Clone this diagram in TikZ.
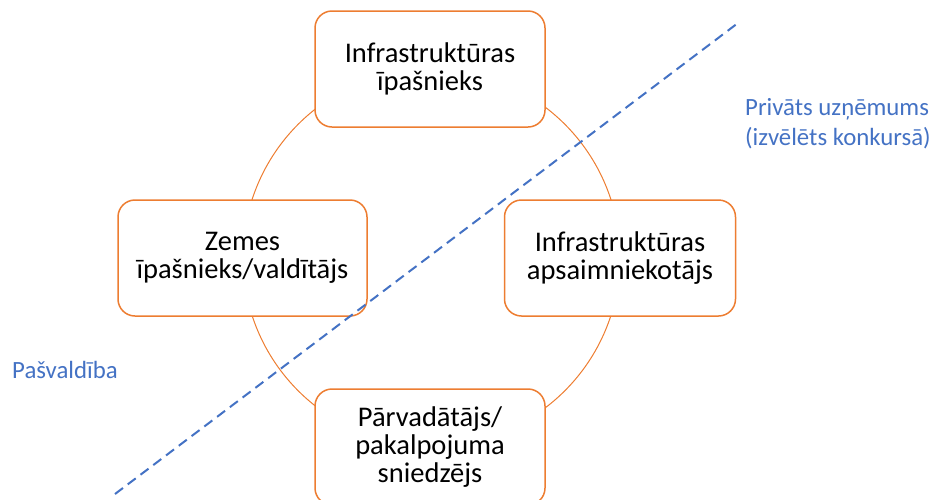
\documentclass[tikz,border=0pt]{standalone}
\usepackage{fontspec}
\setmainfont{Carlito}
\definecolor{orangeline}{HTML}{ED7D31}
\definecolor{blueline}{HTML}{4472C4}
\begin{document}
\begin{tikzpicture}[x=1pt,y=-1pt,
  rolebox/.style={draw=orangeline, line width=1.5pt, fill=white, rounded corners=17pt,
    minimum height=116pt, align=center, inner sep=0pt,
    font=\fontsize{28.5}{28}\selectfont},
  sidelabel/.style={text=blueline, inner sep=0pt, align=left,
    font=\fontsize{24.8}{30}\selectfont},
  divider/.style={draw=blueline, line width=2pt, dash pattern=on 10pt off 6pt}]
\useasboundingbox (0,0) rectangle (936,499);
\coordinate (c) at (431.5,257.5);
\draw[orangeline, line width=1pt] (c) circle[radius=188.5];
\node[rolebox, minimum width=230pt] (top) at (430,69) {Infrastruktūras\\īpašnieks};
\node[rolebox, minimum width=249pt] (left) at (242.5,258) {Zemes\\īpašnieks/valdītājs};
\node[rolebox, minimum width=231pt] (right) at (620,258) {Infrastruktūras\\apsaimniekotājs};
\node[rolebox, minimum width=230pt] (bottom) at (430,447) {Pārvadātājs/\\pakalpojuma\\sniedzējs};
\coordinate (d1) at (115,494);
\coordinate (d2) at (738,23);
\draw[divider] (d1) -- (d2);
\node[sidelabel, anchor=base west] (priv) at (745,145) {Privāts uzņēmums\\(izvēlēts konkursā)};
\node[sidelabel, anchor=base west] (pasv) at (12,378) {Pašvaldība};
\end{tikzpicture}
\end{document}
